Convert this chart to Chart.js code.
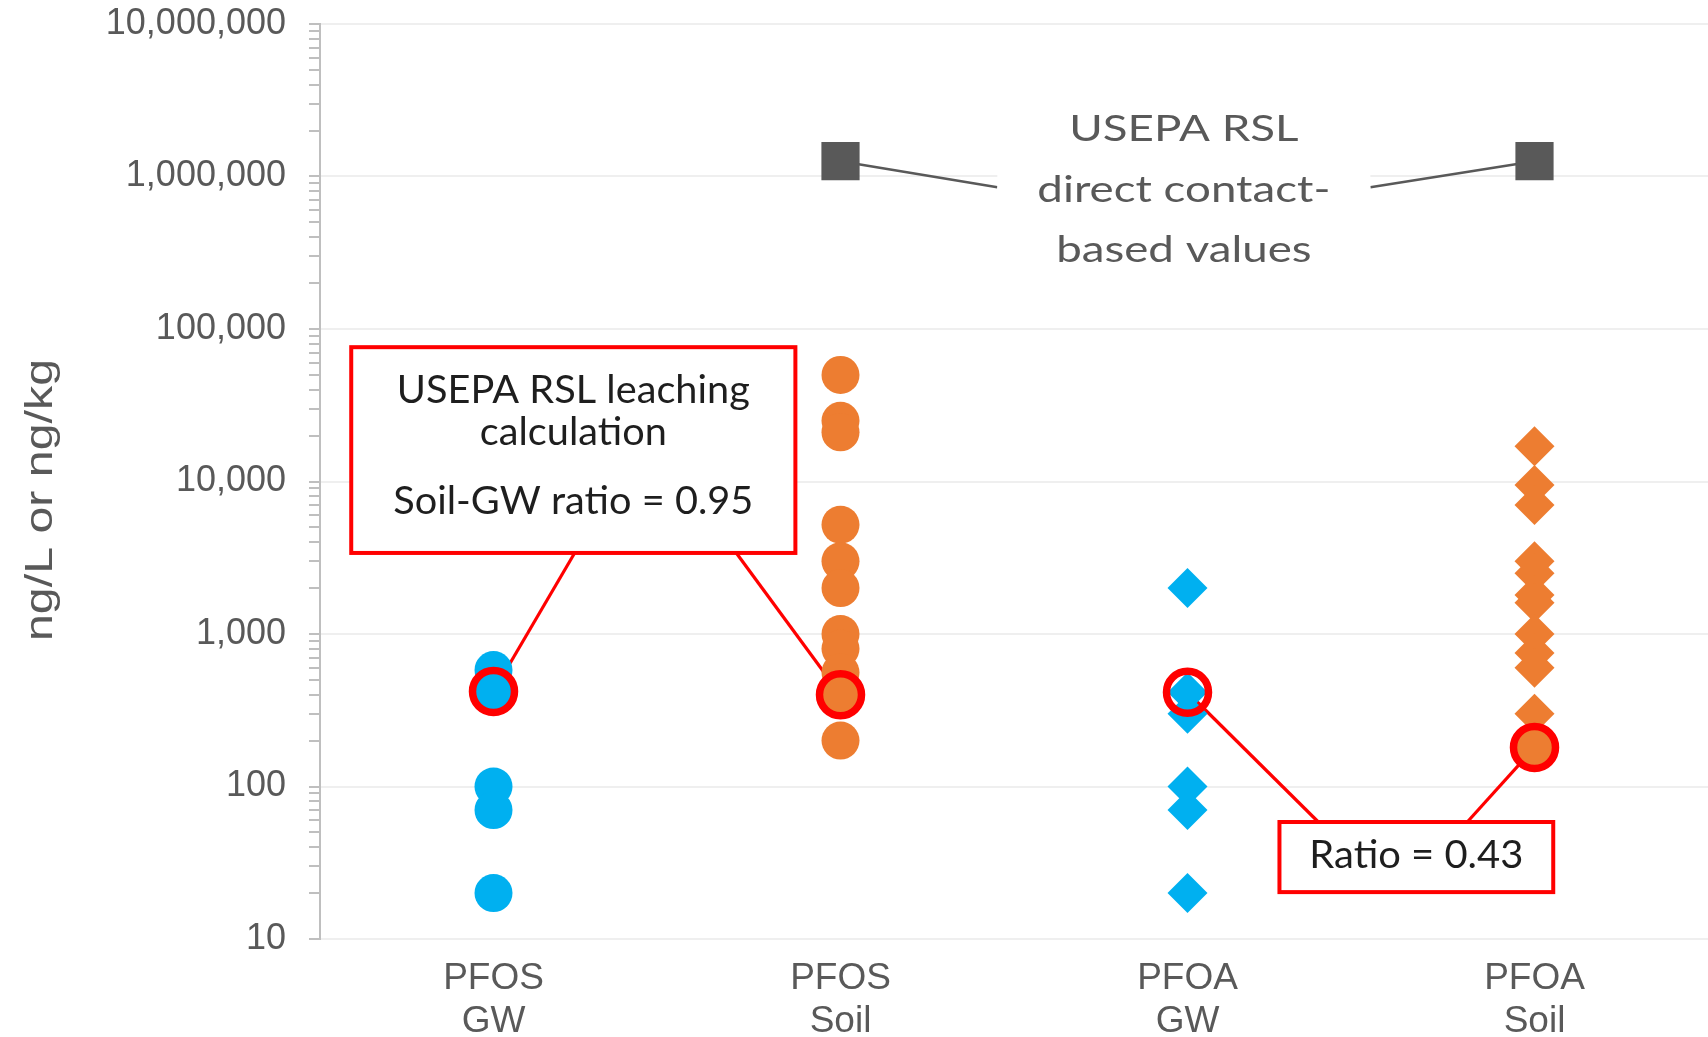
<!DOCTYPE html>
<html>
<head>
<meta charset="utf-8">
<title>PFOS / PFOA in groundwater and soil</title>
<script src="https://cdn.jsdelivr.net/npm/chart.js@4.4.1/dist/chart.umd.min.js"></script>
<style>
  html, body { margin: 0; padding: 0; background: #fff; }
  #wrap { width: 1708px; height: 1037px; }
</style>
</head>
<body>
<div id="wrap"><canvas id="chart"></canvas></div>
<script>
const categories = ["PFOS GW", "PFOS Soil", "PFOA GW", "PFOA Soil"];
const majorTicks = [10, 100, 1000, 10000, 100000, 1000000, 10000000];

// site data (ng/L for GW, ng/kg for soil)
const pfosGw = [580, 420, 100, 70, 20];
const pfosSoil = [50000, 25000, 21000, 5200, 3000, 2000, 1000, 800, 560, 400, 200];
const pfoaGw = [2000, 415, 300, 100, 70, 20];
const pfoaSoil = [17000, 9500, 7000, 3000, 2500, 1800, 1600, 1000, 750, 600, 300];
const pfoaSoilCalc = [180];

// USEPA RSL direct contact values
const rslCategories = ["PFOS Soil", "PFOA Soil"];
const rslValues = [1260000, 1260000];

// circled pairs used for the soil-GW ratios
const circledCategories = ["PFOS GW", "PFOS Soil", "PFOA GW", "PFOA Soil"];
const circledValues = [420, 400, 415, 180];

const BLUE = "#00B0F0";
const ORANGE = "#ED7D31";
const DARK = "#595959";
const RED = "#FF0000";
const AXIS_FONT = "'Liberation Sans', Arial, sans-serif";
const NOTE_FONT = "Lato, 'Open Sans', sans-serif";

function toPoints(cats, values) {
  return values.map((v, i) => ({ x: Array.isArray(cats) ? cats[i] : cats, y: v }));
}

// boxes are placed in data units (x = category index, y = value)
const notes = [
  {
    xMin: -0.41, xMax: 0.87, yMin: 3400, yMax: 76000,
    fill: "#fff", stroke: RED, strokeWidth: 4,
    lines: ["USEPA RSL leaching", "calculation", "Soil-GW ratio = 0.95"],
    baselines: [56, 98, 167], size: 39, fitLine: 0, fitWidth: 353, color: "#1e1e1e",
    links: [{ side: "bottom", at: 0.503, ring: 0 }, { side: "bottom", at: 0.867, ring: 1 }],
  },
  {
    xMin: 2.265, xMax: 3.054, yMin: 20.3, yMax: 58.5,
    fill: "#fff", stroke: RED, strokeWidth: 4,
    lines: ["Ratio = 0.43"],
    baselines: [46], size: 38, fitLine: 0, fitWidth: 214, color: "#1e1e1e",
    links: [{ side: "top", at: 0.142, ring: 2 }, { side: "top", at: 0.686, ring: 3 }],
  },
  {
    xMin: 1.452, xMax: 2.527, yMin: 194500, yMax: 3180000,
    fill: "#fff", stroke: null,
    lines: ["USEPA RSL", "direct contact-", "based values"],
    baselines: [41, 102, 162], size: 37, fitLine: 1, fitWidth: 293, color: DARK,
    links: [{ side: "left", value: 850000, rsl: 0 }, { side: "right", value: 850000, rsl: 1 }],
  },
];

function noteRect(chart, n) {
  const x = chart.scales.x, y = chart.scales.y;
  const left = x.getPixelForValue(n.xMin), right = x.getPixelForValue(n.xMax);
  const top = y.getPixelForValue(n.yMax), bottom = y.getPixelForValue(n.yMin);
  return { left, right, top, bottom, width: right - left, height: bottom - top };
}

const notesPlugin = {
  id: "notes",
  beforeDatasetsDraw(chart) {
    const ctx = chart.ctx;
    const rings = chart.getDatasetMeta(6).data;
    const squares = chart.getDatasetMeta(5).data;
    notes.forEach((n) => {
      const r = noteRect(chart, n);
      n.links.forEach((l) => {
        let sx, sy;
        if (l.side === "bottom" || l.side === "top") {
          sx = r.left + r.width * l.at;
          sy = l.side === "bottom" ? r.bottom : r.top;
        } else {
          sx = l.side === "left" ? r.left : r.right;
          sy = chart.scales.y.getPixelForValue(l.value);
        }
        const target = l.ring !== undefined ? rings[l.ring] : squares[l.rsl];
        ctx.save();
        ctx.strokeStyle = l.ring !== undefined ? RED : DARK;
        ctx.lineWidth = l.ring !== undefined ? 3.2 : 2.5;
        ctx.beginPath();
        ctx.moveTo(sx, sy);
        ctx.lineTo(target.x, target.y);
        ctx.stroke();
        ctx.restore();
      });
    });
  },
  afterDatasetsDraw(chart) {
    const ctx = chart.ctx;
    notes.forEach((n) => {
      const r = noteRect(chart, n);
      ctx.save();
      ctx.fillStyle = n.fill;
      ctx.fillRect(r.left, r.top, r.width, r.height);
      if (n.stroke) {
        ctx.strokeStyle = n.stroke;
        ctx.lineWidth = n.strokeWidth;
        ctx.strokeRect(r.left, r.top, r.width, r.height);
      }
      ctx.font = n.size + "px " + NOTE_FONT;
      ctx.fillStyle = n.color;
      ctx.textAlign = "center";
      ctx.textBaseline = "alphabetic";
      const sx = n.fitWidth / ctx.measureText(n.lines[n.fitLine]).width;
      const cx = r.left + r.width / 2;
      n.lines.forEach((line, i) => {
        ctx.save();
        ctx.translate(cx, r.top + n.baselines[i]);
        ctx.scale(sx, 1);
        ctx.fillText(line, 0, 0);
        ctx.restore();
      });
      ctx.restore();
    });
  },
};

// y axis title is stretched along its length in the original
const yTitlePlugin = {
  id: "yTitle",
  afterDraw(chart) {
    const ctx = chart.ctx;
    const text = "ng/L or ng/kg";
    ctx.save();
    ctx.font = "38px " + AXIS_FONT;
    ctx.fillStyle = DARK;
    ctx.textAlign = "center";
    ctx.textBaseline = "alphabetic";
    const sx = 282 / ctx.measureText(text).width;
    ctx.translate(52, 500);
    ctx.rotate(-Math.PI / 2);
    ctx.scale(sx, 1);
    ctx.fillText(text, 0, 0);
    ctx.restore();
  },
};

const pointDefaults = { pointBorderWidth: 0, pointHoverBorderWidth: 0 };

new Chart(document.getElementById("chart"), {
  type: "scatter",
  data: {
    labels: categories,
    datasets: [
      { label: "PFOS GW", data: toPoints("PFOS GW", pfosGw), pointStyle: "circle", pointRadius: 19, pointHoverRadius: 19, pointBackgroundColor: BLUE, ...pointDefaults },
      { label: "PFOS Soil", data: toPoints("PFOS Soil", pfosSoil), pointStyle: "circle", pointRadius: 19, pointHoverRadius: 19, pointBackgroundColor: ORANGE, ...pointDefaults },
      { label: "PFOA GW", data: toPoints("PFOA GW", pfoaGw), pointStyle: "rectRot", pointRadius: 20, pointHoverRadius: 20, pointBackgroundColor: BLUE, ...pointDefaults },
      { label: "PFOA Soil", data: toPoints("PFOA Soil", pfoaSoil), pointStyle: "rectRot", pointRadius: 20, pointHoverRadius: 20, pointBackgroundColor: ORANGE, ...pointDefaults },
      { label: "PFOA Soil calc", data: toPoints("PFOA Soil", pfoaSoilCalc), pointStyle: "circle", pointRadius: 19, pointHoverRadius: 19, pointBackgroundColor: ORANGE, ...pointDefaults },
      { label: "USEPA RSL", data: toPoints(rslCategories, rslValues), pointStyle: "rect", pointRadius: 27, pointHoverRadius: 27, pointBackgroundColor: DARK, ...pointDefaults },
      {
        label: "circled", order: -1, data: toPoints(circledCategories, circledValues),
        pointStyle: "circle", pointRadius: 21, pointHoverRadius: 21,
        pointBackgroundColor: "rgba(0,0,0,0)", pointBorderColor: RED, pointBorderWidth: 7.5, pointHoverBorderWidth: 7.5,
      },
    ],
  },
  options: {
    responsive: true,
    maintainAspectRatio: false,
    animation: false,
    events: [],
    layout: { autoPadding: false, padding: { top: 24, right: 0, bottom: 0, left: 0 } },
    plugins: { legend: { display: false }, tooltip: { enabled: false } },
    scales: {
      x: {
        type: "category",
        labels: categories,
        offset: true,
        grid: { display: false, drawTicks: false },
        border: { display: false },
        ticks: {
          padding: 19,
          color: DARK,
          font: { family: AXIS_FONT, size: 37, lineHeight: 1.15 },
          callback(value) {
            return this.getLabelForValue(value).split(" ");
          },
        },
        afterFit(scale) {
          scale.height = 98;
          scale.paddingLeft = 0;
          scale.paddingRight = 0;
        },
      },
      y: {
        type: "logarithmic",
        min: 10,
        max: 10000000,
        afterBuildTicks(scale) {
          const ticks = [];
          majorTicks.forEach((m, i) => {
            ticks.push({ value: m, major: true });
            if (i < majorTicks.length - 1) {
              for (let d = 2; d <= 9; d++) ticks.push({ value: m * d, major: false });
            }
          });
          scale.ticks = ticks;
        },
        ticks: {
          autoSkip: false,
          padding: 23,
          color: DARK,
          font: { family: AXIS_FONT, size: 36 },
          callback: (value) => (majorTicks.includes(value) ? value.toLocaleString("en-US") : ""),
        },
        grid: {
          color: (ctx) => (ctx.tick && ctx.tick.major ? "#efefef" : "rgba(0,0,0,0)"),
          lineWidth: 2,
          tickColor: "#bfbfbf",
          tickLength: 11,
          tickWidth: 2,
        },
        border: { display: true, color: "#bfbfbf", width: 2 },
        afterFit(scale) {
          scale.width = 320;
          scale.paddingTop = 0;
          scale.paddingBottom = 0;
        },
      },
    },
  },
  plugins: [notesPlugin, yTitlePlugin],
});
</script>
</body>
</html>
